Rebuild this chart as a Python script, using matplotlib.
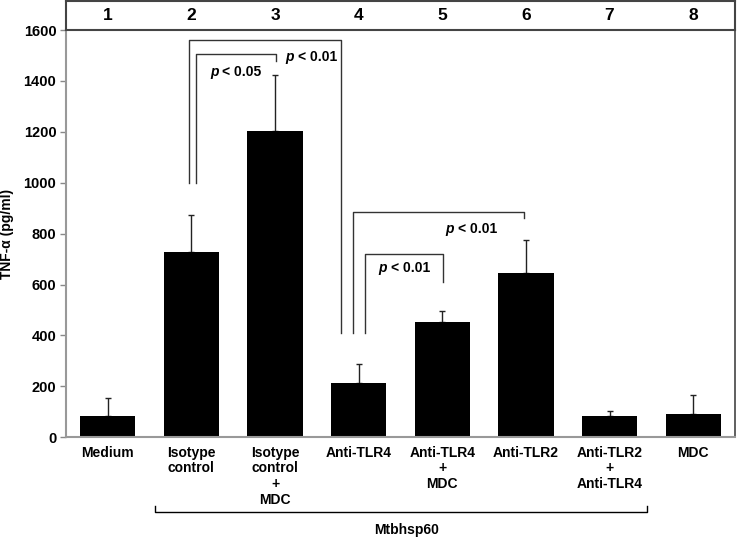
import matplotlib.pyplot as plt
import numpy as np

plt.rcParams['font.family'] = ['Liberation Sans', 'DejaVu Sans']
plt.rcParams['font.weight'] = 'bold'

# data
lanes = ['1', '2', '3', '4', '5', '6', '7', '8']
labels = ['Medium', 'Isotype\ncontrol', 'Isotype\ncontrol\n+\nMDC', 'Anti-TLR4',
          'Anti-TLR4\n+\nMDC', 'Anti-TLR2', 'Anti-TLR2\n+\nAnti-TLR4', 'MDC']
tnf = [85, 727, 1203, 215, 452, 645, 85, 93]
sd = [68, 148, 220, 72, 46, 131, 20, 73]
yticks = [0, 200, 400, 600, 800, 1000, 1200, 1400, 1600]

W, H = 745, 544
fig = plt.figure(figsize=(W / 100, H / 100), dpi=100)
ax = fig.add_axes([66 / W, (H - 437.3) / H, 669 / W, 407.3 / H])
hdr = fig.add_axes([66 / W, (H - 30) / H, 669 / W, 29 / H])

x = np.arange(1, len(tnf) + 1)
ax.bar(x, tnf, width=0.66, color='black', zorder=2)
ax.errorbar(x, tnf, yerr=[np.zeros(len(sd)), sd], fmt='none', ecolor='#222222',
            elinewidth=1, capsize=2.5, capthick=1, zorder=1)

ax.set_xlim(0.5, 8.5)
ax.set_ylim(0, 1600)
ax.set_yticks(yticks)
ax.set_yticklabels([str(t) for t in yticks], fontsize=10.5, fontweight='bold')
ax.tick_params(axis='y', length=4, width=1, color='#888888', pad=3)
ax.set_xticks(x)
ax.set_xticklabels(labels, fontsize=10, fontweight='bold', linespacing=1.15)
ax.tick_params(axis='x', length=0, pad=6)
ax.set_ylabel('TNF-α (pg/ml)', fontsize=10, fontweight='bold')
ax.yaxis.set_label_coords(-0.078, 0.5)
ax.spines['top'].set_visible(False)
ax.spines['left'].set_color('#999999')
ax.spines['left'].set_linewidth(1.5)
ax.spines['bottom'].set_color('#999999')
ax.spines['bottom'].set_linewidth(1.5)
ax.spines['right'].set_color('#444444')
ax.spines['right'].set_linewidth(1.2)

# header strip with lane numbers
hdr.set_xlim(0.5, 8.5)
hdr.set_ylim(0, 1)
hdr.set_xticks([])
hdr.set_yticks([])
for s in hdr.spines.values():
    s.set_color('#444444')
    s.set_linewidth(1.5)
for i, n in enumerate(lanes):
    hdr.text(i + 1, 0.5, n, ha='center', va='center', fontsize=12.5, fontweight='bold')

lc = '#333333'
def bracket(x1, y1, x2, y2, top):
    ax.plot([x1, x1, x2, x2], [y1, top, top, y2], color=lc, lw=1, clip_on=False)

bracket(1.975, 1000, 3.79, 410, 1560)
bracket(2.05, 1000, 3.008, 1479, 1506)
bracket(3.93, 410, 5.98, 862, 887)
bracket(4.08, 410, 5.006, 609, 720)

def ptext(xc, y, s):
    ax.annotate('p', (xc, y), xytext=(-18, 0), textcoords='offset points',
                ha='left', va='center', fontsize=10, fontweight='bold', fontstyle='italic')
    ax.annotate('< ' + s, (xc, y), xytext=(-9, 0), textcoords='offset points',
                ha='left', va='center', fontsize=10, fontweight='bold')

ptext(2.52, 1436, '0.05')
ptext(3.42, 1495, '0.01')
ptext(4.53, 665, '0.01')
ptext(5.34, 818, '0.01')

# Mtbhsp60 bracket under the lanes
ax.plot([1.565, 1.565, 7.45, 7.45], [-270, -295, -295, -270], color='black', lw=1,
        clip_on=False)
ax.text(4.57, -365, 'Mtbhsp60', ha='center', va='center', fontsize=10, fontweight='bold')

fig.savefig('out.png', dpi=100)
